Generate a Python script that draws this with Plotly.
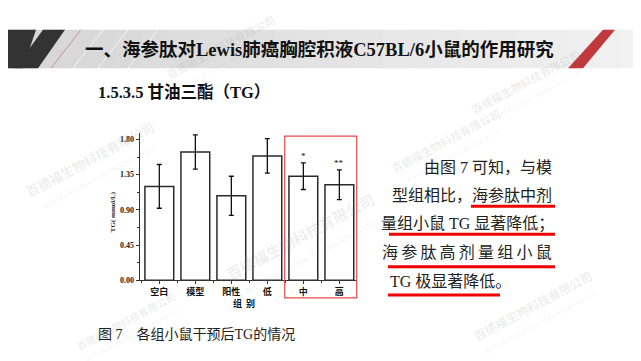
import plotly.graph_objects as go

# ---- data ----
groups = ["空白", "模型", "阳性", "低", "中", "高"]
tg_mean = [1.20, 1.64, 1.08, 1.59, 1.33, 1.22]
tg_err = [0.28, 0.22, 0.25, 0.22, 0.17, 0.19]
sig_marks = ["", "", "", "", "*", "**"]
y_ticks = [0.00, 0.45, 0.90, 1.35, 1.80]

W, H = 641, 361
def px(x):
    return x / W
def py(y):
    return 1 - y / H

SERIF = "Liberation Serif, Noto Sans CJK SC, serif"
CJK = "Noto Sans CJK SC, sans-serif"

xpos = list(range(len(groups)))

fig = go.Figure()
fig.add_trace(go.Bar(
    x=xpos, y=tg_mean, width=0.8,
    marker=dict(color="white", line=dict(color="#2a2a2a", width=1.5)),
    error_y=dict(type="data", array=tg_err, visible=True, color="#111111",
                 thickness=1.3, width=2.5),
    showlegend=False, hoverinfo="skip",
))

shapes = []
# header band gradient
n = 24
for i in range(n):
    x0 = i * W / n
    x1 = (i + 1) * W / n
    g = int(214 + (242 - 214) * i / (n - 1))
    shapes.append(dict(type="rect", xref="paper", yref="paper",
                       x0=px(x0), x1=px(x1 + 1), y0=py(61), y1=py(22),
                       fillcolor=f"rgb({g},{g},{g})", line=dict(width=0), layer="below"))
for xs in [95, 120, 150]:
    shapes.append(dict(type="line", xref="paper", yref="paper",
                       x0=px(xs), y0=py(22), x1=px(xs - 30), y1=py(61),
                       line=dict(color="rgba(255,255,255,0.7)", width=1), layer="below"))
# dark stripes left
shapes.append(dict(type="path", xref="paper", yref="paper",
                   path=f"M {px(0)} {py(22)} L {px(28)} {py(22)} L {px(15)} {py(61)} L {px(0)} {py(61)} Z",
                   fillcolor="#333333", line=dict(width=0)))
shapes.append(dict(type="path", xref="paper", yref="paper",
                   path=f"M {px(35)} {py(22)} L {px(57)} {py(22)} L {px(30)} {py(61)} L {px(7)} {py(61)} Z",
                   fillcolor="#333333", line=dict(width=0)))
shapes.append(dict(type="line", xref="paper", yref="paper",
                   x0=px(73), y0=py(22), x1=px(43), y1=py(61),
                   line=dict(color="#b8868a", width=0.8)))
# red stripe right
shapes.append(dict(type="path", xref="paper", yref="paper",
                   path=f"M {px(595)} {py(22)} L {px(607)} {py(22)} L {px(575)} {py(61)} L {px(560)} {py(61)} Z",
                   fillcolor="#c0393d", line=dict(width=0)))
# red highlight box around 中/高
shapes.append(dict(type="rect", xref="paper", yref="paper",
                   x0=px(276.7), x1=px(348.7), y0=py(294), y1=py(130),
                   line=dict(color="#ec4a4f", width=1.2), fillcolor="rgba(0,0,0,0)"))
# red underlines
for (x0, x1, yy) in [(463, 547, 201), (381, 547, 229.5), (380, 547, 262.5), (380, 492, 291)]:
    shapes.append(dict(type="line", xref="paper", yref="paper",
                       x0=px(x0), x1=px(x1), y0=py(yy), y1=py(yy),
                       line=dict(color="#f00000", width=3)))

annotations = []
# watermarks (faint)
wm = [(215, 45, 11), (85, 160, 13), (296, 240, 15), (528, 308, 12), (520, 80, 11), (440, 140, 11), (120, 322, 10)]
for (cx, cy, sz) in wm:
    annotations.append(dict(xref="paper", yref="paper", x=px(cx), y=py(cy),
                            xanchor="center", yanchor="middle", showarrow=False, textangle=-28,
                            text="<b>百德福生物科技有限公司</b><br><span style='font-size:%dpx'>BESTLIFE BIOLOGICAL TECHNOLOGY CO.,LTD.</span>" % max(5, sz // 2),
                            font=dict(family=CJK, size=sz, color="rgba(150,150,150,0.16)")))
# header title
annotations.append(dict(xref="paper", yref="paper", x=px(75), y=py(42),
                        xanchor="left", yanchor="middle", showarrow=False,
                        text="<b>一、海参肽对Lewis肺癌胸腔积液C57BL/6小鼠的作用研究</b>",
                        font=dict(family=SERIF, size=18.5, color="#111111")))
annotations.append(dict(xref="paper", yref="paper", x=px(88), y=py(86),
                        xanchor="left", yanchor="middle", showarrow=False,
                        text="<b>1.5.3.5 甘油三酯（TG）</b>",
                        font=dict(family=SERIF, size=16.5, color="#111111")))
# right text lines
ts = "\u2009"
lines = [
    ("由图 7 可知，与模", 546, "right", 161.5),
    ("型组相比，海参肽中剂", 546, "right", 190),
    ("量组小鼠 TG 显著降低；", 548, "right", 219),
    (ts.join("海参肽高剂量组小鼠"), 546, "right", 248),
    ("TG 极显著降低。", 380, "left", 277),
]
for t, x, anc, y in lines:
    annotations.append(dict(xref="paper", yref="paper", x=px(x), y=py(y),
                            xanchor=anc, yanchor="middle", showarrow=False,
                            text=t, font=dict(family=SERIF, size=16, color="#222222")))
# caption
annotations.append(dict(xref="paper", yref="paper", x=px(88), y=py(331),
                        xanchor="left", yanchor="middle", showarrow=False,
                        text="图 7　各组小鼠干预后TG的情况",
                        font=dict(family=SERIF, size=14, color="#222222")))
# axis titles
annotations.append(dict(xref="paper", yref="paper", x=px(105), y=py(207),
                        xanchor="center", yanchor="middle", showarrow=False, textangle=-90,
                        text="<b>TG( mmol/L)</b>",
                        font=dict(family=SERIF, size=7, color="#222222")))
annotations.append(dict(xref="paper", yref="paper", x=px(236), y=py(300),
                        xanchor="center", yanchor="middle", showarrow=False,
                        text="<b>组  别</b>",
                        font=dict(family=CJK, size=9, color="#111111")))
# significance marks
for xi, m, e, s in zip(xpos, tg_mean, tg_err, sig_marks):
    if s:
        annotations.append(dict(xref="x", yref="y", x=xi, y=m + e, yshift=7,
                                xanchor="center", yanchor="middle", showarrow=False,
                                text=s, font=dict(family=SERIF, size=9, color="#111111")))

fig.update_layout(
    width=W, height=H,
    margin=dict(l=0, r=0, t=0, b=0),
    paper_bgcolor="white", plot_bgcolor="rgba(0,0,0,0)",
    shapes=shapes, annotations=annotations,
    xaxis=dict(domain=[px(131.7), px(349)], range=[-0.545, 5.49],
               tickmode="array", tickvals=xpos, ticktext=[f"<b>{g}</b>" for g in groups],
               showline=True, linecolor="#333333", linewidth=1.2, mirror=False,
               ticks="outside", ticklen=3, tickwidth=1, tickcolor="#333333",
               minor=dict(tickmode="array", tickvals=[i + 0.5 for i in range(-1, 6)],
                          ticks="outside", ticklen=2, tickcolor="#333333"),
               showgrid=False, zeroline=False,
               tickfont=dict(family=CJK, size=9, color="#111111"), fixedrange=True),
    yaxis=dict(domain=[py(276), py(127)], range=[0, 1.88],
               tickmode="array", tickvals=y_ticks, ticktext=[f"<b>{v:.2f}</b>" for v in y_ticks],
               showline=True, linecolor="#333333", linewidth=1.2,
               ticks="outside", ticklen=3, tickwidth=1, tickcolor="#333333",
               minor=dict(tickmode="array", tickvals=[0.225, 0.675, 1.125, 1.575],
                          ticks="outside", ticklen=2, tickcolor="#333333"),
               showgrid=False, zeroline=False,
               tickfont=dict(family=SERIF, size=8, color="#222222"), fixedrange=True),
)

fig.write_html("out.html")
